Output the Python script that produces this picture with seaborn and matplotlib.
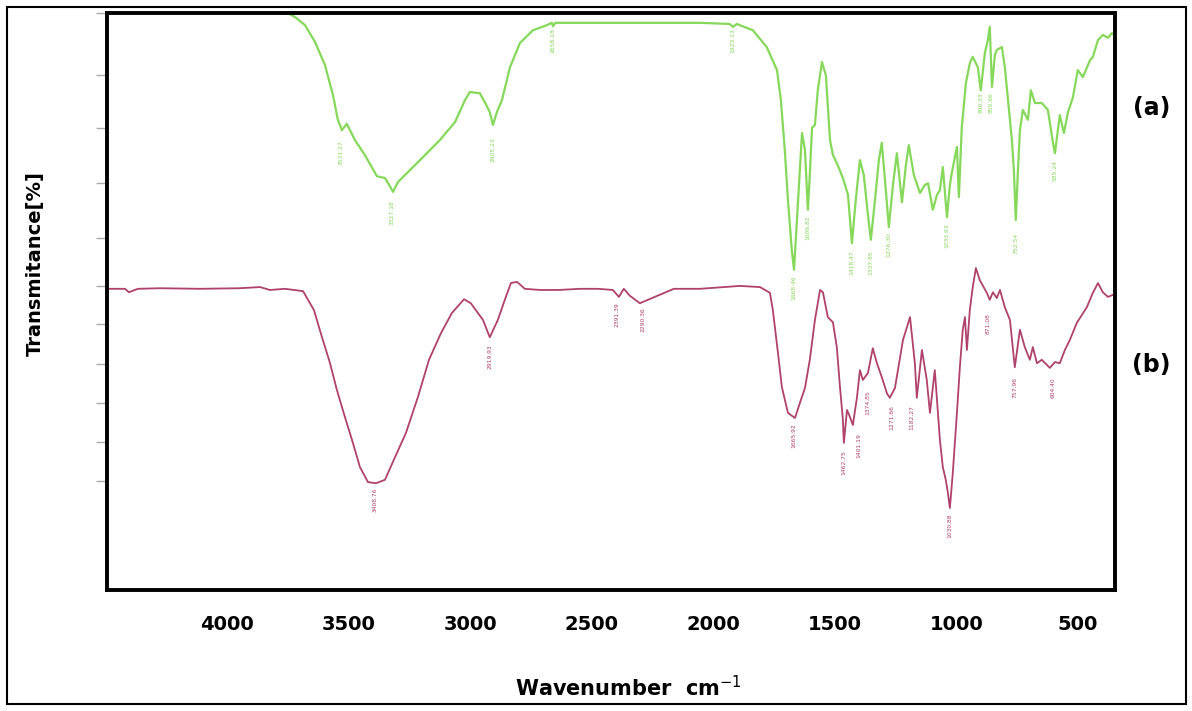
import numpy as np
import pandas as pd
import matplotlib
matplotlib.use("Agg")
import matplotlib.pyplot as plt
from matplotlib.patches import Rectangle
import seaborn as sns

# ---------------- data ----------------
wn_a = [4493, 4111, 3782, 3741, 3720, 3679, 3638, 3597, 3564, 3544, 3527, 3507, 3474, 3433,
        3383, 3350, 3330, 3317, 3297, 3247, 3206, 3124, 3062, 3021, 3001, 2960, 2935, 2919,
        2906, 2890, 2869, 2836, 2795, 2742, 2684, 2664, 2659, 2650, 2631, 2466, 2055, 1932,
        1919, 1903, 1837, 1780, 1738, 1722, 1706, 1693, 1685, 1677, 1668, 1656, 1644, 1635,
        1623, 1611, 1603, 1594, 1582, 1570, 1553, 1537, 1520, 1508, 1488, 1467, 1446, 1430,
        1414, 1397, 1381, 1364, 1352, 1335, 1319, 1307, 1294, 1278, 1261, 1245, 1224, 1208,
        1196, 1175, 1150, 1130, 1117, 1097, 1080, 1068, 1056, 1039, 1027, 1019, 998, 990,
        978, 961, 945, 933, 912, 900, 883, 871, 863, 854, 842, 834, 813, 801, 789, 772,
        764, 756, 747, 739, 727, 706, 694, 677, 649, 624, 603, 595, 583, 575, 558, 542,
        521, 501, 480, 451, 439, 418, 398, 377, 361, 348]
tr_a = [100.0, 100.0, 100.0, 99.8, 99.3, 97.9, 95.0, 91.0, 85.8, 81.5, 79.7, 80.8, 78.0, 75.4,
        71.7, 71.4, 70.0, 69.0, 70.7, 72.8, 74.5, 78.0, 81.1, 84.9, 86.3, 86.1, 84.2, 82.8,
        80.6, 82.8, 84.9, 90.6, 94.8, 97.0, 97.9, 98.3, 97.7, 98.3, 98.3, 98.3, 98.3, 98.1,
        97.6, 98.1, 97.0, 94.1, 90.1, 84.9, 76.3, 67.6, 63.3, 58.9, 55.5, 64.1, 72.8, 79.2,
        76.3, 65.9, 71.9, 80.1, 80.6, 86.7, 91.5, 89.2, 78.0, 75.4, 73.6, 71.4, 68.5, 60.1,
        67.6, 74.5, 71.9, 65.0, 60.7, 67.6, 74.5, 77.5, 71.1, 62.9, 70.2, 75.7, 67.2, 73.6,
        77.1, 71.9, 68.8, 70.2, 70.5, 65.9, 68.5, 69.3, 73.3, 64.6, 70.2, 72.3, 76.8, 68.1,
        80.2, 87.9, 91.3, 92.4, 90.6, 86.6, 93.1, 95.3, 97.6, 87.2, 92.7, 93.6, 94.1, 90.6, 85.4, 78.0,
        72.8, 64.1, 72.8, 79.7, 83.2, 81.5, 86.6, 84.4, 84.4, 83.2, 77.5, 75.7, 79.7, 82.3, 79.2, 82.7,
        85.4, 90.1, 88.9, 91.8, 92.4, 95.3, 96.2, 95.7, 96.5, 96.2]

wn_b = [4493, 4419, 4403, 4366, 4276, 4111, 3947, 3864, 3823, 3762, 3687, 3642, 3609, 3576,
        3548, 3515, 3482, 3453, 3420, 3387, 3350, 3309, 3264, 3215, 3169, 3120, 3075, 3025,
        2997, 2947, 2919, 2886, 2853, 2832, 2807, 2775, 2713, 2635, 2548, 2474, 2413, 2388,
        2368, 2343, 2302, 2240, 2162, 2055, 1890, 1808, 1767, 1755, 1734, 1718, 1693, 1664,
        1644, 1623, 1603, 1582, 1561, 1549, 1529, 1508, 1492, 1479, 1467, 1463, 1450, 1438,
        1426, 1409, 1397, 1385, 1364, 1344, 1327, 1307, 1286, 1274, 1253, 1220, 1191, 1171,
        1163, 1142, 1122, 1109, 1089, 1068, 1056, 1044, 1035, 1027, 1015, 998, 986, 974,
        965, 957, 945, 933, 920, 904, 875, 863, 850, 834, 821, 801, 780, 760, 739, 719,
        698, 686, 669, 649, 628, 616, 595, 575, 554, 534, 505, 464, 439, 418, 398, 377, 348]
tr_b = [52.2, 52.2, 51.6, 52.2, 52.3, 52.2, 52.3, 52.5, 52.0, 52.2, 51.8, 48.5, 43.8, 39.3,
        34.7, 30.0, 25.5, 21.3, 18.7, 18.5, 19.1, 23.0, 27.2, 33.4, 39.9, 44.5, 48.0, 50.4,
        49.7, 46.8, 43.8, 46.8, 50.8, 53.2, 53.4, 52.2, 52.0, 52.0, 52.2, 52.2, 52.0, 50.8,
        52.2, 51.0, 49.7, 50.8, 52.2, 52.2, 52.7, 52.5, 51.5, 48.5, 41.1, 35.2, 30.7, 29.8,
        32.4, 35.0, 39.9, 46.8, 52.0, 51.6, 47.3, 46.4, 42.1, 35.2, 29.5, 25.5, 31.2, 30.0,
        28.6, 33.4, 38.1, 36.4, 37.6, 41.9, 39.3, 36.9, 34.1, 33.3, 35.0, 43.3, 47.3, 39.3,
        33.3, 41.6, 36.4, 30.7, 38.1, 26.0, 21.3, 19.1, 16.8, 14.2, 20.3, 30.7, 38.6, 45.1,
        47.3, 41.6, 48.5, 52.5, 55.8, 53.7, 51.5, 50.3, 51.6, 50.6, 52.0, 49.0, 46.8, 38.6, 45.1, 42.1,
        39.9, 42.1, 39.3, 39.9, 39.0, 38.5, 39.5, 39.3, 41.6, 43.3, 46.3, 49.0, 51.5, 53.2, 51.6, 50.8, 51.3]

peak_text_a = ["3531.27", "3327.18", "2905.23", "2658.18", "1923.13", "1665.46", "1606.82",
               "1418.47", "1337.85", "1276.30", "1033.93", "890.33", "850.66", "752.54", "585.24"]
peak_wn_a = [3531, 3322, 2906, 2659, 1919, 1668, 1611, 1430, 1352, 1278, 1039, 900, 856, 756, 595]
peak_tr_a = [78.0, 67.6, 78.5, 97.4, 97.3, 54.6, 65.0, 58.9, 58.9, 62.0, 63.6, 86.3, 86.3, 61.9, 74.5]

peak_text_b = ["3408.76", "2919.93", "2391.39", "2290.36", "1665.92", "1462.75", "1401.19",
               "1374.85", "1271.66", "1182.27", "1030.88", "871.08", "757.96", "604.40"]
peak_wn_b = [3390, 2919, 2396, 2289, 1668, 1463, 1401, 1364, 1266, 1184, 1027, 871, 760, 604]
peak_tr_b = [17.7, 42.5, 49.9, 48.9, 28.9, 24.3, 27.2, 34.7, 32.1, 32.1, 13.3, 48.0, 36.9, 36.9]

x_ticks = [4000, 3500, 3000, 2500, 2000, 1500, 1000, 500]
y_ticks = [100, 89.2, 80.1, 70.5, 61.0, 52.7, 46.1, 39.2, 32.4, 25.6, 18.9]

# ---------------- style ----------------
sns.set_style("white")
plt.rcParams['font.family'] = ['DejaVu Sans']
plt.rcParams['text.color'] = 'black'
plt.rcParams['axes.labelcolor'] = 'black'
plt.rcParams['xtick.color'] = 'black'

GREEN = "#86d85a"
RED = "#b0406c"

fig = plt.figure(figsize=(11.92, 7.11), dpi=100)
ax = fig.add_axes([0.0898, 0.1702, 0.8456, 0.8115])

df_a = pd.DataFrame({"wn": wn_a, "T": tr_a})
df_b = pd.DataFrame({"wn": wn_b, "T": tr_b})
sns.lineplot(data=df_a, x="wn", y="T", color=GREEN, lw=1.6, sort=False, estimator=None, ax=ax)
sns.lineplot(data=df_b, x="wn", y="T", color=RED, lw=1.3, sort=False, estimator=None, ax=ax)

for t, w, v in zip(peak_text_a, peak_wn_a, peak_tr_a):
    ax.text(w, v, t, rotation=90, ha="center", va="top", fontsize=4.3, color=GREEN)
for t, w, v in zip(peak_text_b, peak_wn_b, peak_tr_b):
    ax.text(w, v, t, rotation=90, ha="center", va="top", fontsize=4.3, color=RED)

ax.set_xlim(4493, 348)
ax.set_ylim(0, 100)
ax.set_xticks(x_ticks)
ax.set_xticklabels([str(v) for v in x_ticks], fontsize=14, fontweight="bold", color="black")
ax.set_yticks(y_ticks)
ax.set_yticklabels([])
ax.tick_params(axis="x", direction="out", length=9, width=2.5, color="black", pad=9)
ax.tick_params(axis="y", direction="out", length=8, width=1, color="#aaaaaa", left=True)
for s in ax.spines.values():
    s.set_linewidth(2.8)
    s.set_color("black")

ax.set_xlabel("Wavenumber  cm$^{-1}$", fontsize=15, fontweight="bold", color="black")
ax.xaxis.set_label_coords(0.517, -0.147)
ax.set_ylabel("Transmitance[%]", fontsize=14, fontweight="bold", color="black")
ax.yaxis.set_label_coords(-0.062, 0.565)

fig.text(0.966, 0.848, "(a)", fontsize=17, fontweight="bold", ha="center", va="center", color="black")
fig.text(0.966, 0.487, "(b)", fontsize=17, fontweight="bold", ha="center", va="center", color="black")

fig.patches.append(Rectangle((0.006, 0.01), 0.989, 0.98, transform=fig.transFigure,
                             fill=False, lw=1.5, ec="black"))

fig.savefig("out.png", dpi=100)
